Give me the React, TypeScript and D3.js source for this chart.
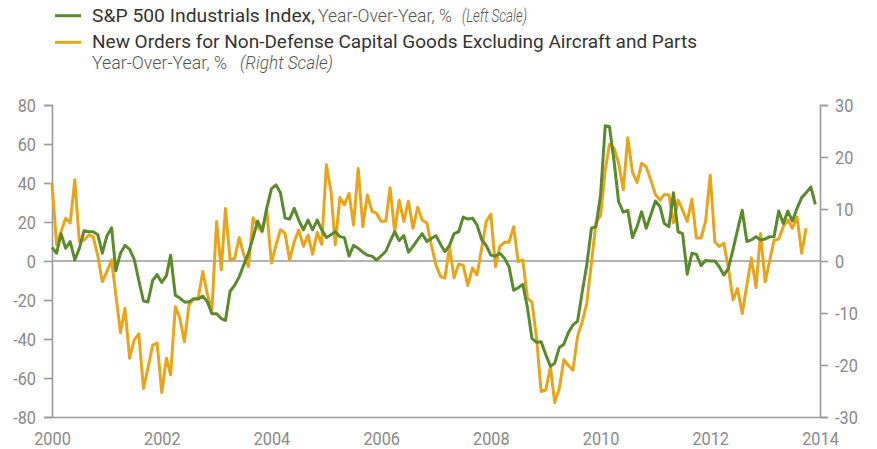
import React, { useEffect, useRef } from "react";
import * as d3 from "d3";

// monthly, Jan 2000 onward (left scale, %)
const industrials = [
  7, 4, 14, 6.5, 10, 0.5, 6.5, 15.5, 15, 15, 13.5, 4,
  13, 17, -5, 4, 8, 6, 1, -10, -20.5, -21, -10, -7,
  -11, -7.5, 3, -17.5, -19, -21, -21, -19.5, -19.5, -18, -21, -27,
  -27, -29.5, -30.5, -15.5, -12.5, -8, -2, 4, 12, 20.5, 15.5, 27,
  37, 39, 35, 22, 21.5, 27, 21, 16, 21, 16, 21, 16,
  12, 13.5, 15, 12.5, 12, 2.5, 8, 6.5, 4.5, 3, 2.5, 0.5,
  2.7, 5, 10, 15, 10.5, 13, 4.5, 7.5, 11, 14, 10, 11.5,
  13, 8.5, 4.8, 8, 14, 15, 22.5, 21.5, 22, 18.5, 11, 8,
  3, 2.5, 4, 1.4, -2.9, -15, -13.7, -12, -24, -39.7, -41.7, -41.4,
  -48, -54, -52.5, -44.4, -42.7, -36.6, -32.8, -30.8, -15.7, -2, 16.8, 17.6,
  34, 69.4, 68.9, 51, 30.4, 25, 26, 12, 17.6, 25.3, 16.8, 23.6,
  30.8, 27.8, 19.3, 17.6, 35, 15, 14, -6.8, 4, 3.4, -2.4, 0.2,
  0, 0, -2.9, -7.2, -3.8, 6, 16, 26, 10, 10.8, 12.5, 10.8,
  11.3, 12.5, 12.5, 25.6, 19.3, 25.6, 20.5, 27, 32.5, 35, 38, 29,
];

// monthly, Jan 2000 onward (right scale, %)
const newOrders = [
  14.9, 3.1, 5.6, 8.2, 7.3, 15.6, 3.7, 4, 5, 4.7, 1, -4,
  -2, 0.2, -6.5, -13.8, -9.1, -18.7, -15.2, -14, -24.5, -20.6, -16.2, -15.8,
  -25.3, -18.7, -21.9, -8.8, -11, -15.5, -8.5, -7.2, -7.1, -2, -6.5, -9.4,
  7.6, -1.7, 10.1, 0.2, 0.5, 4.5, 1.2, -1.1, 8.3, 6.6, 5.6, 9.8,
  -0.4, 3.1, 6, 5.3, 0.2, 3.7, 6, 2.8, 5, 1.3, 5.5, 3.2,
  18.5, 13.3, 3.1, 12.2, 10.8, 13, 6.9, 17.8, 6.6, 12.7, 9.5, 9.2,
  7.6, 7.7, 14.1, 5.6, 11.7, 7.6, 11.5, 6.3, 10.3, 7.9, 7.3, 3.1,
  -0.8, -3, -3.3, 2.8, -3.2, -0.6, -0.8, -4.7, -1.3, -2.7, 2.4, 7.6,
  9, -1.1, 2.8, 3.6, 3.6, 6.6, -0.1, 0.2, -7.2, -7.9, -14.9, -25.1,
  -24.8, -20.3, -27.2, -24.5, -19, -20.1, -21, -14.4, -11.7, -8.1, -0.4, 7.3,
  8.8, 17.5, 22.4, 21.7, 18.8, 13.7, 23.7, 17.1, 15.1, 18.8, 18.1, 15.6,
  12.8, 11.7, 12.8, 12.7, 7.3, 11.7, 9.8, 7.6, 11.9, 4.4, 4.4, 7.6,
  16.5, 3.7, 2.8, 3.4, -1.4, -7.5, -5.3, -10.1, -4.6, 0.6, -5.1, 5.3,
  -4, 0.2, 4, 4.2, 6.6, 7.9, 6.3, 8.5, 1.5, 6.3,
];

const leftTicks = [-80, -60, -40, -20, 0, 20, 40, 60, 80];
const rightTicks = [-30, -20, -10, 0, 10, 20, 30];
const yearTicks = [2000, 2002, 2004, 2006, 2008, 2010, 2012, 2014];

const GREEN = "#5a8a2b";
const ORANGE = "#e9a51a";
const AXIS = "#9a9a9a";
const LABEL = "#8a8a8a";
const FONT = "Roboto, 'Open Sans', sans-serif";

const App = () => {
  const svgRef = useRef<SVGSVGElement>(null);

  useEffect(() => {
    const svg = d3.select(svgRef.current);
    svg.selectAll("*").remove();

    const left = 52, right = 820, top = 105, bottom = 417;
    const x = d3.scaleTime()
      .domain([new Date(2000, 0, 1), new Date(2014, 0, 1)])
      .range([left, right]);
    const yL = d3.scaleLinear().domain([-80, 80]).range([bottom, top]);
    const yR = d3.scaleLinear().domain([-30, 30]).range([bottom, top]);

    const squeeze = 0.88;

    // left axis
    const gl = svg.append("g").attr("transform", `translate(${left},0)`)
      .call(d3.axisLeft(yL).tickValues(leftTicks).tickSize(8).tickFormat(d => String(d)));
    // right axis
    const gr = svg.append("g").attr("transform", `translate(${right},0)`)
      .call(d3.axisRight(yR).tickValues(rightTicks).tickSize(8).tickFormat(d => String(d)));
    // bottom axis
    const gb = svg.append("g").attr("transform", `translate(0,${bottom})`)
      .call(d3.axisBottom(x)
        .tickValues(yearTicks.map(yr => new Date(yr, 0, 1)))
        .tickSize(0)
        .tickFormat(d => String((d as Date).getFullYear())));

    [gl, gr, gb].forEach(g => {
      g.select(".domain").attr("stroke", AXIS).attr("stroke-width", 1.6);
      g.selectAll(".tick line").attr("stroke", AXIS).attr("stroke-width", 1.6);
      g.selectAll(".tick text")
        .attr("fill", LABEL)
        .style("font-family", FONT)
        .style("font-size", "18.5px");
    });
    gl.selectAll(".tick text").attr("x", -16 / squeeze).attr("dy", "0.35em")
      .attr("transform", `scale(${squeeze},1)`);
    gr.selectAll(".tick text").attr("x", 15 / squeeze).attr("dy", "0.35em")
      .attr("transform", `scale(${squeeze},1)`);
    gb.selectAll(".tick text").attr("y", 28).attr("dy", 0)
      .attr("transform", `scale(${squeeze},1)`);

    // zero line
    svg.append("line")
      .attr("x1", left).attr("x2", right)
      .attr("y1", yL(0)).attr("y2", yL(0))
      .attr("stroke", AXIS).attr("stroke-width", 1.6);

    const month = (i: number) => new Date(2000, i, 1);

    const lineR = d3.line<number>().x((_, i) => x(month(i))).y(d => yR(d));
    const lineL = d3.line<number>().x((_, i) => x(month(i))).y(d => yL(d));

    svg.append("path").datum(newOrders)
      .attr("d", lineR).attr("fill", "none")
      .attr("stroke", ORANGE).attr("stroke-width", 3).attr("stroke-linejoin", "round");
    svg.append("path").datum(industrials)
      .attr("d", lineL).attr("fill", "none")
      .attr("stroke", GREEN).attr("stroke-width", 3).attr("stroke-linejoin", "round");

    // legend
    const lg = svg.append("g").style("font-family", FONT).style("font-size", "18.5px");
    lg.append("line").attr("x1", 55).attr("x2", 81).attr("y1", 15.7).attr("y2", 15.7)
      .attr("stroke", GREEN).attr("stroke-width", 3);
    lg.append("line").attr("x1", 55).attr("x2", 81).attr("y1", 42.3).attr("y2", 42.3)
      .attr("stroke", ORANGE).attr("stroke-width", 3);

    const seg = (txt: string, px: number, py: number, len: number, kind: string) => {
      const t = lg.append("text").attr("x", px).attr("y", py).text(txt)
        .attr("textLength", len).attr("lengthAdjust", "spacingAndGlyphs");
      if (kind === "bold") t.attr("fill", "#333").style("font-weight", 400);
      else if (kind === "italic") t.attr("fill", "#555").style("font-weight", 300).style("font-style", "italic");
      else t.attr("fill", "#555").style("font-weight", 300);
    };
    seg("S&P 500 Industrials Index,", 92, 21.7, 223, "bold");
    seg("Year-Over-Year, %", 318, 21.7, 134, "light");
    seg("(Left Scale)", 462, 21.7, 65, "italic");
    seg("New Orders for Non-Defense Capital Goods Excluding Aircraft and Parts", 92, 47.8, 605, "bold");
    seg("Year-Over-Year, %", 92, 69, 135, "light");
    seg("(Right Scale)", 240, 69, 93, "italic");
  }, []);

  return (
    <svg ref={svgRef} width={877} height={449}
      style={{ position: "absolute", left: 0, top: 0, background: "#fff" }} />
  );
};

export default App;
